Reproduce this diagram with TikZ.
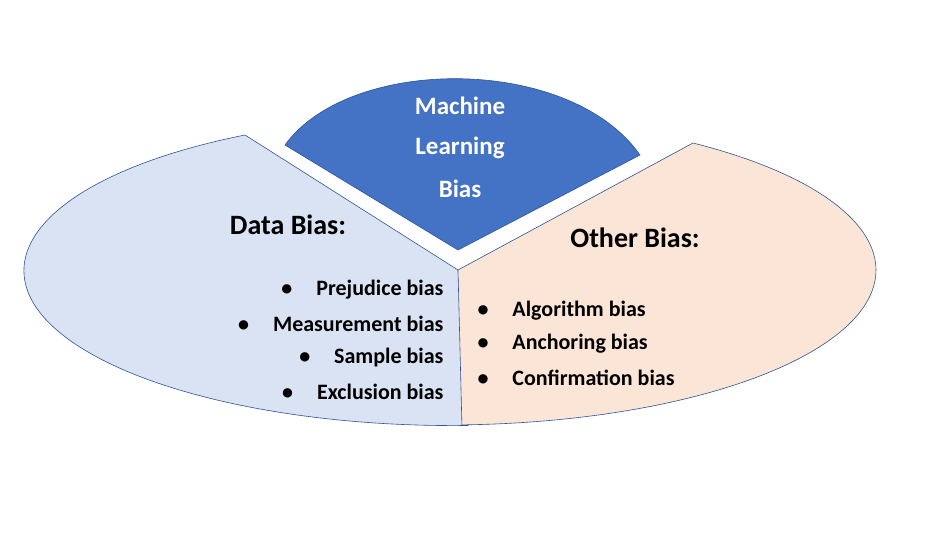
\documentclass[tikz,border=0pt]{standalone}
\usepackage{fontspec}
\setmainfont{Carlito}
\definecolor{lb}{HTML}{DAE3F3}
\definecolor{pe}{HTML}{FBE5D6}
\definecolor{mb}{HTML}{4472C4}
\definecolor{ol}{HTML}{2F5597}
\begin{document}
\begin{tikzpicture}[x=1pt,y=1pt,
  seg/.style={draw=ol,line width=0.6pt},
  head/.style={font=\fontsize{28}{30}\selectfont\bfseries,anchor=center},
  item/.style={font=\fontsize{22}{24}\selectfont\bfseries},
  ttl/.style={font=\fontsize{25}{27}\selectfont\bfseries,text=white,anchor=center}]
\useasboundingbox (0,0) rectangle (939,533);
\fill[white] (0,0) rectangle (939,533);
\filldraw[seg,fill=lb] (245,398) arc[start angle=119,end angle=272,x radius=429,y radius=155] -- (458,263) -- cycle;
\filldraw[seg,fill=pe] (693,390) arc[start angle=55,end angle=-88,x radius=429,y radius=155] -- (458,263) -- cycle;
\filldraw[seg,fill=mb] (285,388) .. controls (350,478) and (570,478) .. (640,378) -- (458,283) -- cycle;
\node[ttl] (t1) at (460,427) {Machine};
\node[ttl] (t2) at (460,385) {Learning};
\node[ttl] (t3) at (460,344) {Bias};
\node[head] (db) at (288,308) {Data Bias:};
\node[head] (ob) at (635,295) {Other Bias:};
\node[item,anchor=east] (l1) at (447,243) {•\hspace{24pt}Prejudice bias};
\node[item,anchor=east] (l2) at (447,209) {•\hspace{24pt}Measurement bias};
\node[item,anchor=east] (l3) at (447,175) {•\hspace{24pt}Sample bias};
\node[item,anchor=east] (l4) at (447,141) {•\hspace{24pt}Exclusion bias};
\node[item,anchor=west] (r1) at (474,222) {•\hspace{24pt}Algorithm bias};
\node[item,anchor=west] (r2) at (474,189) {•\hspace{24pt}Anchoring bias};
\node[item,anchor=west] (r3) at (474,155) {•\hspace{24pt}Confirmation bias};
\end{tikzpicture}
\end{document}
